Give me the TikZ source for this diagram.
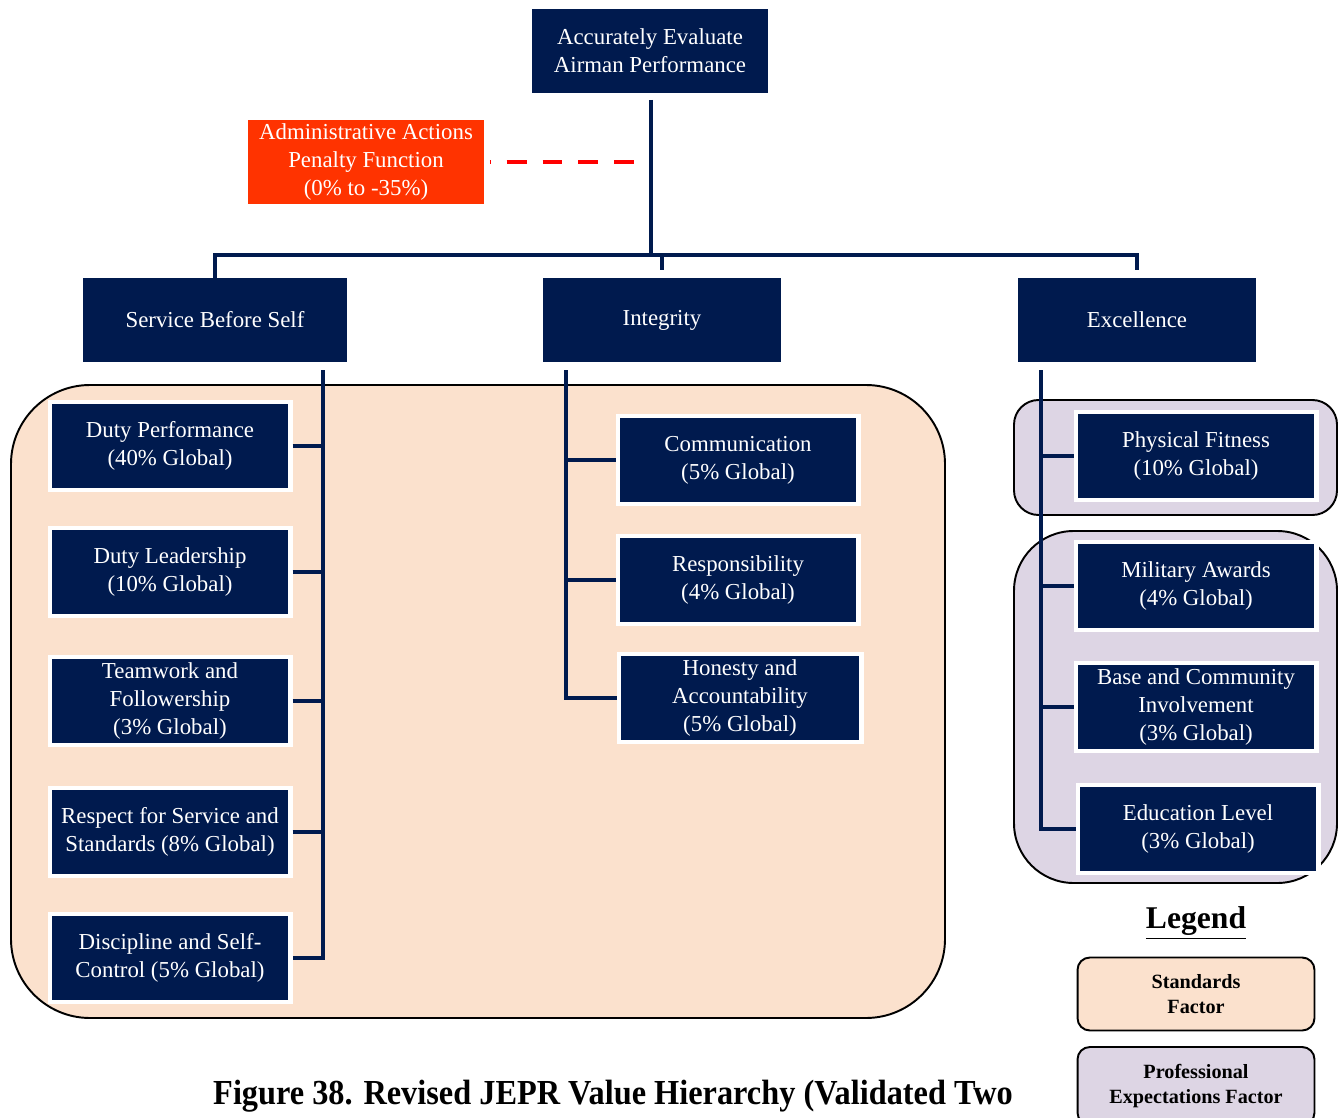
\documentclass[tikz,border=0pt]{standalone}
\usepackage{fontspec}
\setmainfont{Liberation Serif}
\usetikzlibrary{positioning}

\definecolor{navy}{RGB}{0,26,78}
\definecolor{peach}{RGB}{251,225,205}
\definecolor{lilac}{RGB}{221,213,228}
\definecolor{penred}{RGB}{255,51,0}

\tikzset{
  head/.style={fill=navy,text=white,align=center,inner sep=1pt,
    minimum width=4.74cm,minimum height=1.7cm,font=\fontsize{13}{15.9}\selectfont},
  sub/.style={head,draw=white,line width=2.3pt,minimum width=4.82cm,minimum height=1.76cm},
  link/.style={draw=navy,line width=2.8pt},
  region/.style={draw=black,line width=1.1pt},
  key/.style={region,rounded corners=7pt,align=center,font=\bfseries\fontsize{11.5}{14}\selectfont}
}

\begin{document}
\begin{tikzpicture}[x=0.02cm,y=-0.02cm]
\clip (0,0) rectangle (1338,1118);
\useasboundingbox (0,0) rectangle (1338,1118);

% factor regions
\fill[peach,region,rounded corners=45pt] (11,385) rectangle (945,1018);
\fill[lilac,region,rounded corners=14pt] (1014,400) rectangle (1337,515);
\fill[lilac,region,rounded corners=34pt] (1014,531) rectangle (1337,883);

% top of the hierarchy
\node[head] (goal) at (650,51) {Accurately Evaluate\\Airman Performance};
\node[head,fill=penred] (pen) at (366,162) {Administrative Actions\\Penalty Function\\(0\% to -35\%)};
\coordinate (bar) at (651,255);

\node[head,minimum width=5.28cm,minimum height=1.68cm] (sbs) at (215,320) {Service Before Self};
\node[head,minimum width=4.78cm,minimum height=1.68cm] (int) at (662,320) {Integrity};
\node[head,minimum width=4.78cm,minimum height=1.68cm] (exc) at (1137,320) {Excellence};

% service before self
\node[sub] (dp) at (170,446) {Duty Performance\\(40\% Global)};
\node[sub] (dl) at (170,572) {Duty Leadership\\(10\% Global)};
\node[sub] (tf) at (170,701) {Teamwork and\\Followership\\(3\% Global)};
\node[sub] (rs) at (170,832) {Respect for Service and\\Standards (8\% Global)};
\node[sub] (dc) at (170,958) {Discipline and Self-\\Control (5\% Global)};

% integrity
\node[sub] (com) at (738,460) {Communication\\(5\% Global)};
\node[sub] (res) at (738,580) {Responsibility\\(4\% Global)};
\node[sub,minimum width=4.86cm] (ha) at (740,698) {Honesty and\\Accountability\\(5\% Global)};

% excellence
\node[sub] (pf) at (1196,456) {Physical Fitness\\(10\% Global)};
\node[sub] (ma) at (1196,586) {Military Awards\\(4\% Global)};
\node[sub] (bc) at (1196,707) {Base and Community\\Involvement\\(3\% Global)};
\node[sub] (ed) at (1198,829) {Education Level\\(3\% Global)};

% connectors
\draw[link] ([yshift=-0.12cm]goal.south -| bar) -- (bar);
\draw[link] ([yshift=-0.16cm]sbs.north) |- (bar -| exc.north) -- ([yshift=0.16cm]exc.north);
\draw[link] ([yshift=0.16cm]int.north) -- (int.north |- bar);
\draw[red,line width=2.8pt,dash pattern=on 11.3pt off 9.1pt,dash phase=10.8pt]
  ([xshift=0.1cm]pen.east) -- ([xshift=-0.3cm]pen.east -| bar);

\coordinate (lspine) at (323,370);
\draw[link] (lspine) |- (dc.east);
\foreach \c in {dp,dl,tf,rs} \draw[link] (\c.east) -- (\c.east -| lspine);

\coordinate (ispine) at (566,370);
\draw[link] (ispine) |- (ha.west);
\foreach \c in {com,res} \draw[link] (\c.west) -- (\c.west -| ispine);

\coordinate (espine) at (1041,370);
\draw[link] (espine) |- (ed.west);
\foreach \c in {pf,ma,bc} \draw[link] (\c.west) -- (\c.west -| espine);

% legend
\node[font=\bfseries\fontsize{18}{20}\selectfont] (leg) at (1196,923) {\underline{Legend}};
\node[key,fill=peach,minimum width=4.74cm,minimum height=1.46cm] (stf) at (1196,994) {Standards\\Factor};
\node[key,fill=lilac,minimum width=4.74cm,minimum height=1.56cm] (pef) at (1196,1086) {Professional\\Expectations Factor};

\node[font=\bfseries\fontsize{20}{22}\selectfont,xscale=0.92] (cap) at (613,1096) {Figure 38. Revised JEPR Value Hierarchy (Validated Two};
\end{tikzpicture}
\end{document}
